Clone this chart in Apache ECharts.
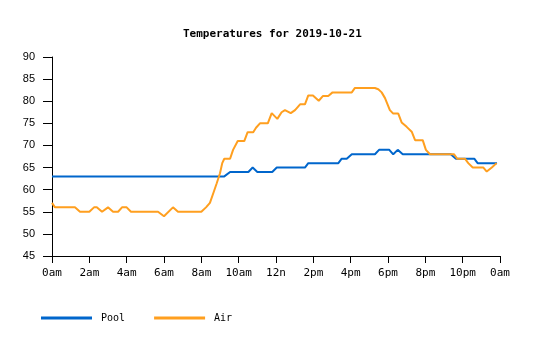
<!DOCTYPE html>
<html>
<head>
<meta charset="utf-8">
<script src="https://cdn.jsdelivr.net/npm/echarts@6/dist/echarts.min.js"></script>
<style>html,body{margin:0;padding:0;background:#fff}#c{width:535px;height:340px}</style>
</head>
<body>
<div id="c"></div>
<script>
var xTickLabels = ['0am','2am','4am','6am','8am','10am','12n','2pm','4pm','6pm','8pm','10pm','0am'];
var poolHours = [0, 9.23, 9.54, 10.52, 10.75, 11.0, 11.8, 12.04, 13.55, 13.73, 15.34, 15.52, 15.79, 16.06, 17.3, 17.52, 18.07, 18.28, 18.52, 18.79, 21.36, 21.64, 22.62, 22.8, 23.84];
var poolTemps = [63, 63, 64, 64, 65, 64, 64, 65, 65, 66, 66, 67, 67, 68, 68, 69, 69, 68, 69, 68, 68, 67, 67, 66, 66];
var airHours = [0, 0.16, 1.23, 1.5, 2.0, 2.25, 2.4, 2.68, 3.0, 3.27, 3.54, 3.75, 4.0, 4.23, 5.68, 6.0, 6.48, 6.75, 8.0, 8.25, 8.46, 8.64, 8.82, 9.0, 9.12, 9.23, 9.54, 9.7, 9.95, 10.3, 10.48, 10.78, 10.93, 11.14, 11.56, 11.77, 12.07, 12.3, 12.48, 12.79, 13.02, 13.29, 13.55, 13.73, 13.98, 14.29, 14.52, 14.8, 15.03, 16.06, 16.23, 17.3, 17.48, 17.66, 17.84, 18.1, 18.28, 18.55, 18.73, 19.0, 19.27, 19.45, 19.86, 20.03, 20.25, 21.54, 21.71, 22.12, 22.3, 22.54, 23.11, 23.29, 23.56, 23.82];
var airTemps = [57, 56, 56, 55, 55, 56, 56, 55, 56, 55, 55, 56, 56, 55, 55, 54, 56, 55, 55, 56, 57, 59.2, 61.4, 63.7, 66, 67, 67, 69, 71, 71, 73, 73, 74, 75, 75, 77.3, 76, 77.5, 78, 77.3, 78, 79.3, 79.3, 81.3, 81.3, 80.1, 81.2, 81.2, 82, 82, 83, 83, 82.7, 82, 80.7, 78, 77.2, 77.2, 75.2, 74.2, 73.1, 71.2, 71.2, 69, 68, 68, 67, 67, 66, 65, 65, 64.1, 65, 66];

function pairs(h, v){ return h.map(function(x,i){ return [x, v[i]]; }); }

var chart = echarts.init(document.getElementById('c'), null, {renderer:'canvas'});
chart.setOption({
  animation: false,
  backgroundColor: '#fff',
  title: {
    text: 'Temperatures for 2019-10-21',
    left: 178, top: 24,
    textStyle: {fontFamily: 'DejaVu Sans Mono', fontSize: 11, fontWeight: 'bold', color: '#000'}
  },
  legend: {
    left: 41, top: 313, padding: 0,
    itemWidth: 51, itemHeight: 3, itemGap: 29,
    icon: 'rect',
    textStyle: {fontFamily: 'DejaVu Sans Mono', fontSize: 10, color: '#000', padding: [0,0,0,4]},
    data: ['Pool', 'Air']
  },
  grid: {left: 52, right: 35, top: 57, bottom: 84, containLabel: false},
  xAxis: {
    type: 'value', min: 0, max: 24, interval: 2,
    axisLine: {lineStyle: {color: '#000', width: 1}},
    axisTick: {length: 7, lineStyle: {color: '#000'}},
    axisLabel: {
      margin: 12, color: '#000', fontFamily: 'DejaVu Sans Mono', fontSize: 11,
      formatter: function(v){ return xTickLabels[Math.round(v/2)]; }
    },
    splitLine: {show: false}
  },
  yAxis: {
    type: 'value', min: 45, max: 90, interval: 5,
    axisLine: {show: true, lineStyle: {color: '#000', width: 1}},
    axisTick: {show: true, length: 9, lineStyle: {color: '#000'}},
    axisLabel: {margin: 17, color: '#000', fontFamily: 'Liberation Sans', fontSize: 11},
    splitLine: {show: false}
  },
  series: [
    {name: 'Pool', type: 'line', data: pairs(poolHours, poolTemps), showSymbol: false, symbol: 'none',
     lineStyle: {color: '#0066cc', width: 2}, itemStyle: {color: '#0066cc'}},
    {name: 'Air', type: 'line', data: pairs(airHours, airTemps), showSymbol: false, symbol: 'none',
     lineStyle: {color: '#ff9f1f', width: 2}, itemStyle: {color: '#ff9f1f'}}
  ]
});
</script>
</body>
</html>
